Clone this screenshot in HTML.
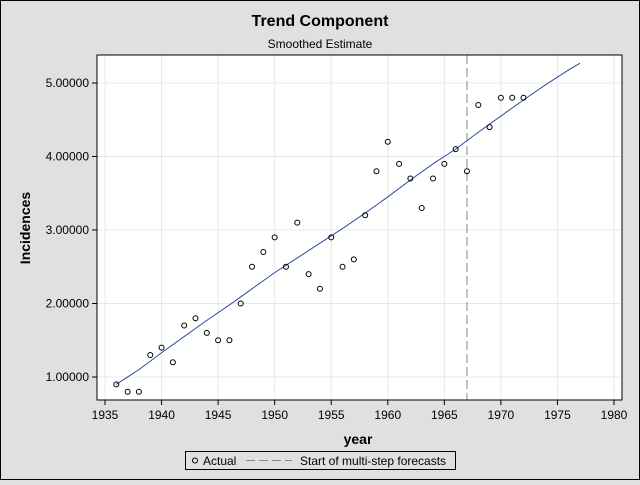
<!DOCTYPE html>
<html><head><meta charset="utf-8"><style>
body{margin:0;width:640px;height:480px;overflow:hidden;background:#e0e0e0;font-family:"Liberation Sans",Arial,sans-serif}
</style></head><body>
<svg width="640" height="480" xmlns="http://www.w3.org/2000/svg" font-family="Liberation Sans, Arial, sans-serif">
<rect x="0.5" y="0.5" width="639" height="479" fill="#e0e0e0" stroke="#000"/>
<text x="320" y="26" text-anchor="middle" font-size="16" font-weight="bold">Trend Component</text>
<text x="320" y="48" text-anchor="middle" font-size="12">Smoothed Estimate</text>
<rect x="97" y="55" width="525" height="345" fill="#fff"/>
<g id="grid"></g><g id="axes"></g><g id="marks"></g>
<rect x="97" y="55" width="525" height="345" fill="none" stroke="#000"/>
<text x="358" y="444" text-anchor="middle" font-size="14" font-weight="bold">year</text>
<text transform="translate(30,228) rotate(-90)" text-anchor="middle" font-size="14" font-weight="bold">Incidences</text>
<g>
<rect x="185.5" y="451.5" width="270" height="18" fill="#e0e0e0" stroke="#000"/>
<circle cx="195" cy="460.5" r="2.5" fill="none" stroke="#000"/>
<text x="203" y="465" font-size="12">Actual</text>
<line x1="246" y1="460.5" x2="292" y2="460.5" stroke="#888" stroke-dasharray="9,4"/>
<text x="300" y="465" font-size="12">Start of multi-step forecasts</text>
</g>
</svg>
<script>
const years=[1936,1937,1938,1939,1940,1941,1942,1943,1944,1945,1946,1947,1948,1949,1950,1951,1952,1953,1954,1955,1956,1957,1958,1959,1960,1961,1962,1963,1964,1965,1966,1967,1968,1969,1970,1971,1972];
const actual=[0.9,0.8,0.8,1.3,1.4,1.2,1.7,1.8,1.6,1.5,1.5,2.0,2.5,2.7,2.9,2.5,3.1,2.4,2.2,2.9,2.5,2.6,3.2,3.8,4.2,3.9,3.7,3.3,3.7,3.9,4.1,3.8,4.7,4.4,4.8,4.8,4.8];
const trendYears=[1936,1938,1940,1942,1944,1946,1948,1950,1952,1954,1956,1958,1960,1962,1964,1966,1968,1970,1972,1974,1976,1977];
const trend=[0.9,1.1,1.33,1.55,1.77,1.98,2.2,2.42,2.62,2.82,3.02,3.23,3.45,3.68,3.9,4.1,4.33,4.55,4.77,4.98,5.18,5.27];
const xTicks=[1935,1940,1945,1950,1955,1960,1965,1970,1975,1980];
const yTicks=[1,2,3,4,5];
const yTickLabels=["1.00000","2.00000","3.00000","4.00000","5.00000"];
const forecastStart=1967;
const NS="http://www.w3.org/2000/svg";
const X=v=>105+(v-1935)*(614-105)/45;
const Y=v=>377-(v-1)*73.5;
function mk(t,a,p){const e=document.createElementNS(NS,t);for(const k in a)e.setAttribute(k,a[k]);p.appendChild(e);return e;}
const g=document.getElementById('grid'),ax=document.getElementById('axes'),m=document.getElementById('marks');
xTicks.forEach(t=>{
 const l=mk('line',{x1:X(t),x2:X(t),y1:55,y2:400,stroke:'#e8e8e8'},g);
 
 
 mk('line',{x1:X(t),x2:X(t),y1:400,y2:405,stroke:'#000'},ax);
 const tx=mk('text',{x:X(t),y:419,'text-anchor':'middle','font-size':12},ax);tx.textContent=t;
 
 
});
yTicks.forEach((t,i)=>{
 const l=mk('line',{x1:97,x2:622,y1:Y(t),y2:Y(t),stroke:'#e8e8e8'},g);
 
 
 mk('line',{x1:92,x2:97,y1:Y(t),y2:Y(t),stroke:'#000'},ax);
 const tx=mk('text',{x:89,y:Y(t)+4,'text-anchor':'end','font-size':12},ax);tx.textContent=yTickLabels[i];
 
 
});
const fl=mk('line',{x1:X(forecastStart),x2:X(forecastStart),y1:55,y2:400,stroke:'#888','stroke-dasharray':'9,4'},m);


const tl=mk('polyline',{points:trendYears.map((y,i)=>X(y)+','+Y(trend[i])).join(' '),fill:'none',stroke:'#2a4f9a','stroke-width':1},m);


years.forEach((y,i)=>{
 const c=mk('circle',{cx:X(y),cy:Y(actual[i]),r:2.5,fill:'none',stroke:'#000'},m);
 
 
});
</script>
</body></html>
